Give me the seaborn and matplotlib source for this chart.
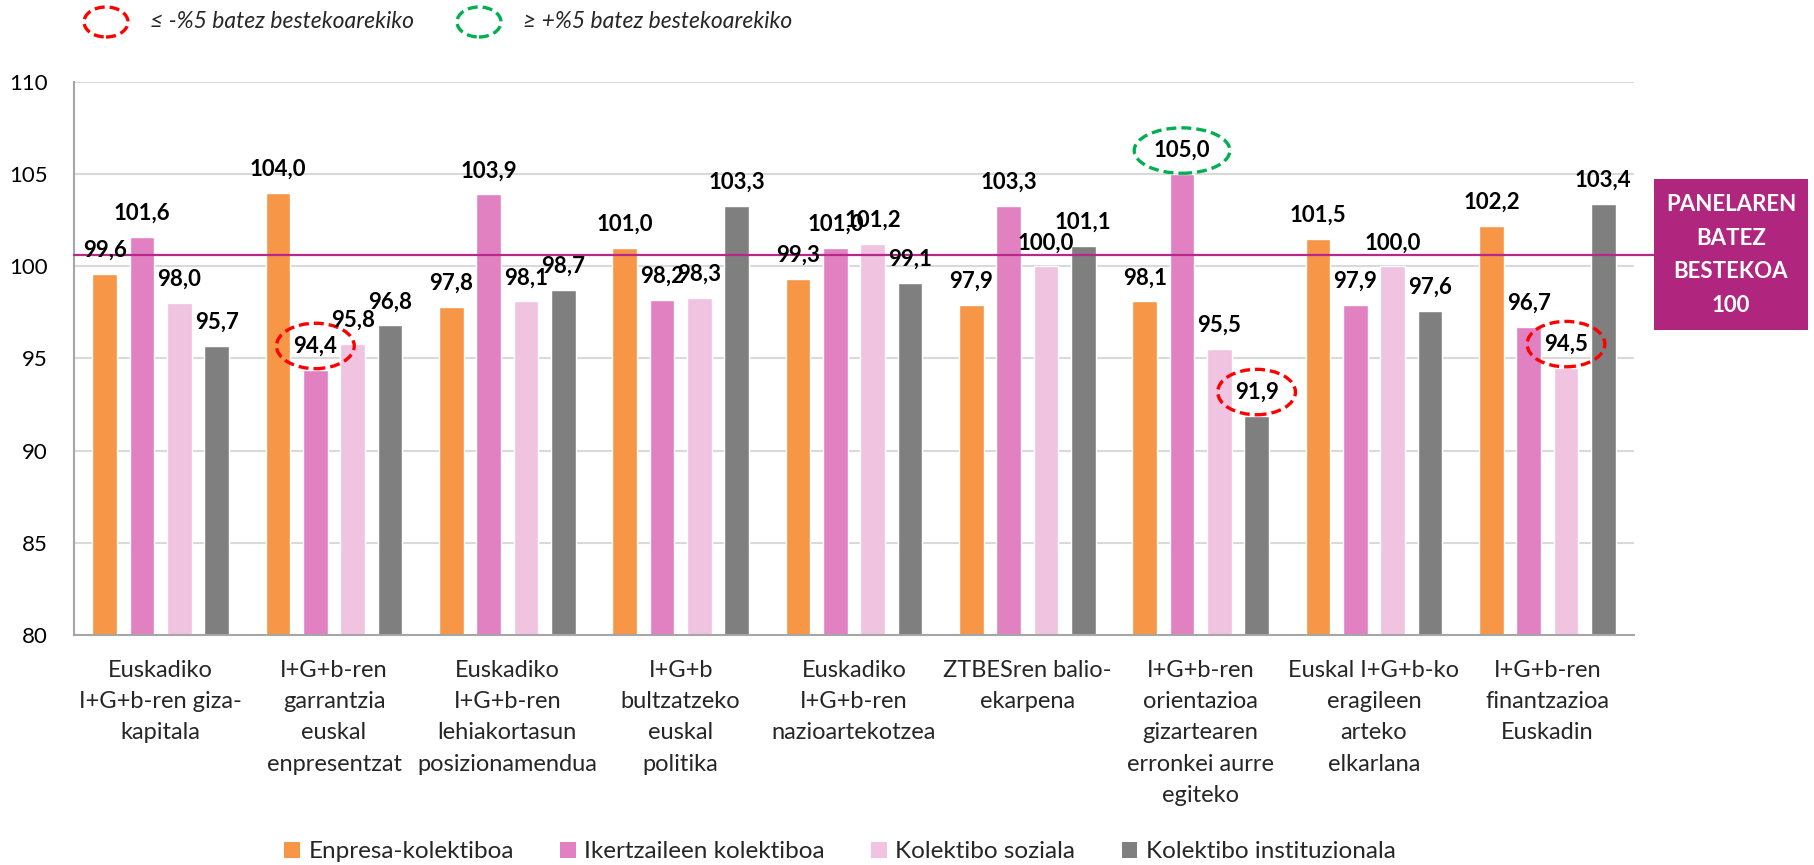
import numpy as np
import pandas as pd
import matplotlib
matplotlib.use("Agg")
import matplotlib.pyplot as plt
from matplotlib.patches import Patch, Ellipse, Rectangle
from matplotlib.ticker import FixedLocator
import seaborn as sns

# data
categories = [
    "Euskadiko\nI+G+b-ren giza-\nkapitala",
    "I+G+b-ren\ngarrantzia\neuskal\nenpresentzat",
    "Euskadiko\nI+G+b-ren\nlehiakortasun\nposizionamendua",
    "I+G+b\nbultzatzeko\neuskal\npolitika",
    "Euskadiko\nI+G+b-ren\nnazioartekotzea",
    "ZTBESren balio-\nekarpena",
    "I+G+b-ren\norientazioa\ngizartearen\nerronkei aurre\negiteko",
    "Euskal I+G+b-ko\neragileen\narteko\nelkarlana",
    "I+G+b-ren\nfinantzazioa\nEuskadin",
]
groups = ["Enpresa-kolektiboa", "Ikertzaileen kolektiboa", "Kolektibo soziala", "Kolektibo instituzionala"]
enpresa = [99.6, 104.0, 97.8, 101.0, 99.3, 97.9, 98.1, 101.5, 102.2]
ikertzaileak = [101.6, 94.4, 103.9, 98.2, 101.0, 103.3, 105.0, 97.9, 96.7]
soziala = [98.0, 95.8, 98.1, 98.3, 101.2, 100.0, 95.5, 100.0, 94.5]
instituzionala = [95.7, 96.8, 98.7, 103.3, 99.1, 101.1, 91.9, 97.6, 103.4]
panel_mean = 100.6
yticks = [80, 85, 90, 95, 100, 105, 110]

colors = ["#F79646", "#E281C1", "#F0C3E1", "#7F7F7F"]
mean_color = "#B8278A"
box_color = "#B0267F"

df = pd.DataFrame({
    "cat": categories * 4,
    "group": np.repeat(groups, len(categories)),
    "value": enpresa + ikertzaileak + soziala + instituzionala,
})

sns.set_style("white")
plt.rcParams["font.family"] = ["Lato", "DejaVu Sans"]

W, H = 1814, 865
fig = plt.figure(figsize=(W / 100, H / 100), dpi=100)
ax = fig.add_axes([74 / W, 1 - 635 / H, (1634 - 74) / W, (635 - 82) / H])

sns.barplot(data=df, x="cat", y="value", hue="group", order=categories, hue_order=groups,
            palette=colors, width=0.86, gap=0.34, ax=ax, legend=False, saturation=1)

ax.set_ylim(80, 110)
ax.set_xlim(-0.5, len(categories) - 0.5)
ax.set_yticks(yticks)
ax.set_xlabel("")
ax.set_ylabel("")
ax.yaxis.grid(True, color="#D9D9D9", lw=1.5)
ax.set_axisbelow(True)
for s in ["top", "right"]:
    ax.spines[s].set_visible(False)
for s in ["left", "bottom"]:
    ax.spines[s].set_color("#A6A6A6")
    ax.spines[s].set_linewidth(1.5)

ax.tick_params(axis="y", length=0, pad=19, labelsize=16, labelcolor="black")
ax.tick_params(axis="x", which="major", length=0, pad=18, labelsize=17)
ax.xaxis.set_minor_locator(FixedLocator(np.arange(-0.5, len(categories), 1.0)))
ax.tick_params(axis="x", which="minor", length=7, width=1.5, color="#A6A6A6", direction="out")
for t in ax.get_xticklabels():
    t.set_linespacing(1.6)

# panel average line, running out to the box
ax.axhline(panel_mean, xmin=0, xmax=(1654 - 74) / (1634 - 74), color=mean_color, lw=1.6,
           clip_on=False, zorder=3)

# data labels
for cont in ax.containers:
    for bar in cont.patches:
        v = bar.get_height()
        x = bar.get_x() + bar.get_width() / 2
        txt = f"{v:.1f}".replace(".", ",")
        kw = {}
        if v <= 95:
            kw["bbox"] = dict(boxstyle="ellipse,pad=0.25", fc="none", ec="#FF0000", lw=2.4, ls=(0, (3, 1.5)))
        elif v >= 105:
            kw["bbox"] = dict(boxstyle="ellipse,pad=0.25", fc="none", ec="#00B050", lw=2.4, ls=(0, (3, 1.5)))
        ax.annotate(txt, (x, v), xytext=(0, 17), textcoords="offset points", ha="center", va="center",
                    fontsize=16, fontweight="bold", color="black", zorder=5, **kw)

# top legend with dashed ellipses
for cx, col, tx, label in [(106, "#FF0000", 150, "≤ -%5 batez bestekoarekiko"),
                           (479, "#00B050", 523, "≥ +%5 batez bestekoarekiko")]:
    fig.patches.append(Ellipse((cx / W, 1 - 22 / H), 44 / W, 30 / H, transform=fig.transFigure,
                               fill=False, ec=col, lw=2.4, ls=(0, (3, 1.5))))
    fig.text(tx / W, 1 - 22 / H, label, ha="left", va="center", fontsize=16.5, style="italic",
             family=["Lato", "DejaVu Sans"])

# right box
fig.patches.append(Rectangle((1654 / W, 1 - 330 / H), (1808 - 1654) / W, (330 - 179) / H,
                             transform=fig.transFigure, fc=box_color, ec="none"))
fig.text(1731 / W, 1 - 255 / H, "PANELAREN\nBATEZ\nBESTEKOA\n100", ha="center", va="center",
         color="white", fontsize=16, fontweight="bold", linespacing=1.75)

# bottom legend
handles = [Patch(facecolor=c, edgecolor="none") for c in colors]
fig.legend(handles, groups, loc="center left", bbox_to_anchor=(284 / W, 1 - 852 / H), ncol=4,
           frameon=False, fontsize=17.5, handlelength=0.65, handleheight=0.65, handletextpad=0.35,
           columnspacing=1.9, borderpad=0, borderaxespad=0)

fig.savefig("out.png", dpi=100, facecolor="white")
